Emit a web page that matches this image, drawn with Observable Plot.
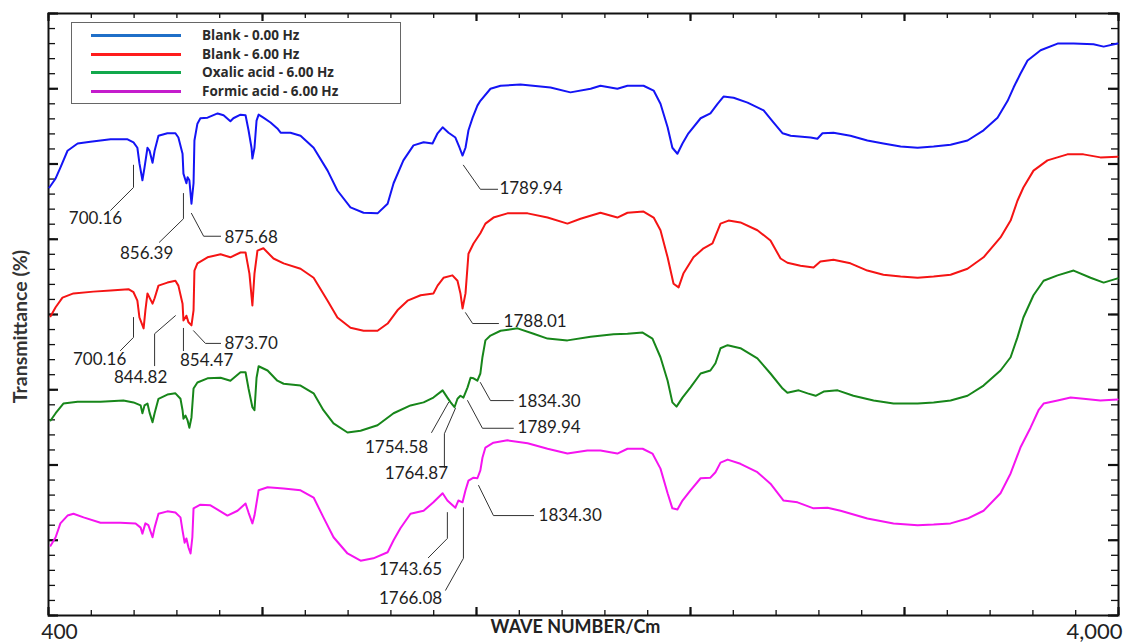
<!DOCTYPE html>
<html>
<head>
<meta charset="utf-8">
<script src="https://cdn.jsdelivr.net/npm/d3@7"></script>
<script src="https://cdn.jsdelivr.net/npm/@observablehq/plot@0.6"></script>
<style>
  html, body { margin: 0; padding: 0; background: #fff; overflow: hidden; }
  #wrap { position: relative; width: 1124px; height: 644px; }
  #legend { position: absolute; left: 71px; top: 22px; width: 328px; height: 80px;
    border: 1px solid #666; background: #fff; font-family: "Open Sans", Lato, sans-serif; }
  .row { position: absolute; left: 0; height: 18px; }
  .sw { position: absolute; left: 19px; width: 90px; height: 3px; top: 8px; }
  .lb { position: absolute; left: 130px; top: 0; font-size: 13.5px; font-weight: 700; color: #2b2b2b; line-height: 18px; white-space: nowrap; }
</style>
</head>
<body>
<div id="wrap"></div>
<script>
// ---- Data (wave number cm^-1, transmittance %) ----
const seriesNames = ["Blank - 0.00 Hz", "Blank - 6.00 Hz", "Oxalic acid - 6.00 Hz", "Formic acid - 6.00 Hz"];
const curveColors = ["#1414f5", "#f51414", "#17861a", "#f514f0"];
const legendColors = ["#1f6fc8", "#ff1c1c", "#12a84c", "#c41ccc"];

const blank0 = [[403,71.1],[424,72.6],[440,74.4],[464,77.2],[498,78.4],[541,78.7],[609,79.1],[666,79.1],[686,78.6],[699,77.7],[706,75.1],[716,72.3],[723,74.4],[733,77.7],[740,77.2],[750,75.2],[757,77.2],[770,79.7],[800,80.1],[827,80.1],[837,79.4],[851,76.7],[854,73.4],[864,71.8],[868,72.8],[874,72.3],[881,68.4],[888,71.8],[891,78.9],[901,81.7],[911,82.6],[935,82.7],[969,83.4],[989,83.1],[1012,82.1],[1022,82.6],[1046,83.2],[1063,83.1],[1073,80.6],[1083,77.7],[1086,75.9],[1093,77.7],[1100,82.2],[1107,83.2],[1123,82.7],[1147,81.9],[1170,80.9],[1181,80.2],[1214,80.2],[1248,79.7],[1292,77.7],[1339,73.9],[1372,70.6],[1416,67.8],[1460,66.9],[1507,66.8],[1541,68.4],[1561,71.8],[1594,75.6],[1628,78.1],[1662,78.6],[1692,78.4],[1709,80.1],[1726,81.1],[1746,80.2],[1769,79.4],[1783,77.7],[1793,76.4],[1803,77.7],[1813,80.6],[1827,82.7],[1843,84.7],[1853,85.5],[1887,87.5],[1921,88.0],[1988,88.2],[2089,87.7],[2156,86.9],[2224,87.5],[2257,88.0],[2314,87.5],[2348,88.0],[2402,88.0],[2436,87.2],[2459,85.0],[2483,81.1],[2499,77.7],[2516,76.7],[2533,78.4],[2553,80.1],[2594,82.6],[2627,83.4],[2651,85.0],[2671,86.2],[2705,86.0],[2752,85.2],[2806,83.9],[2839,81.9],[2870,80.1],[2897,79.7],[2964,79.4],[2987,79.2],[3004,80.1],[3041,80.2],[3098,79.7],[3155,78.9],[3209,78.4],[3267,77.9],[3324,77.7],[3378,77.9],[3435,78.2],[3492,78.9],[3546,80.6],[3593,82.7],[3627,85.5],[3647,87.7],[3670,90.0],[3694,92.2],[3738,93.9],[3795,95.0],[3849,95.0],[3916,94.9],[3950,94.5],[3997,95.0]];

const blank6 = [[407,49.7],[424,51.2],[447,52.8],[484,53.5],[551,53.8],[609,54.0],[669,54.2],[686,53.7],[699,52.3],[706,49.5],[720,47.7],[726,50.7],[733,53.5],[740,52.8],[750,51.8],[757,52.7],[770,54.8],[800,55.3],[827,55.6],[837,54.8],[851,51.8],[854,49.0],[864,49.8],[871,48.7],[881,48.2],[888,50.7],[891,57.3],[901,58.5],[935,59.5],[979,60.0],[1012,59.5],[1046,60.3],[1063,60.3],[1076,56.8],[1086,51.5],[1093,56.8],[1103,60.6],[1123,61.0],[1157,59.3],[1191,58.5],[1248,57.6],[1292,56.1],[1339,52.3],[1372,49.5],[1416,47.8],[1460,47.3],[1507,47.3],[1541,48.5],[1574,50.7],[1608,52.3],[1652,53.2],[1695,53.5],[1709,54.8],[1729,56.1],[1759,56.5],[1776,55.6],[1786,53.5],[1793,51.0],[1803,53.5],[1813,60.1],[1830,61.8],[1853,63.5],[1870,65.1],[1897,66.1],[1944,66.8],[2012,66.8],[2079,66.1],[2146,65.1],[2190,65.9],[2257,66.9],[2314,66.1],[2348,66.9],[2402,67.1],[2436,66.1],[2459,64.0],[2483,59.5],[2503,55.1],[2520,54.5],[2536,56.8],[2570,59.5],[2604,61.0],[2634,61.8],[2661,65.1],[2688,65.6],[2728,65.3],[2785,64.0],[2829,62.3],[2863,59.3],[2886,58.6],[2930,58.1],[2974,57.8],[2997,58.8],[3041,59.1],[3098,58.5],[3155,57.3],[3209,56.6],[3267,56.3],[3324,56.1],[3378,56.3],[3435,56.6],[3492,57.6],[3546,59.5],[3603,62.8],[3637,65.6],[3660,68.9],[3680,71.1],[3714,73.9],[3761,75.6],[3828,76.6],[3882,76.6],[3939,76.1],[3997,76.2]];

const oxalic6 = [[407,32.4],[424,33.6],[450,35.2],[498,35.5],[575,35.5],[652,35.7],[686,35.4],[710,34.9],[716,33.6],[723,34.9],[733,35.2],[740,33.7],[750,32.1],[757,33.6],[770,36.0],[800,36.7],[827,36.9],[844,36.0],[851,34.1],[854,32.7],[861,33.2],[868,32.4],[874,31.2],[881,32.9],[888,37.7],[901,38.7],[935,39.4],[979,39.5],[1012,39.0],[1046,40.4],[1063,40.4],[1073,37.7],[1086,34.6],[1093,34.1],[1100,39.5],[1107,41.4],[1137,40.7],[1170,39.0],[1191,38.5],[1248,38.2],[1292,36.9],[1325,34.1],[1359,31.9],[1406,30.4],[1450,30.7],[1507,31.6],[1561,33.6],[1618,34.9],[1662,35.4],[1695,36.2],[1726,37.4],[1742,36.2],[1753,35.4],[1766,34.6],[1776,36.0],[1786,36.5],[1796,36.2],[1810,37.9],[1820,39.5],[1830,39.4],[1843,39.0],[1853,40.2],[1860,42.9],[1870,45.7],[1887,46.5],[1921,47.3],[1978,47.7],[2032,46.8],[2079,46.0],[2146,45.7],[2224,46.3],[2301,46.7],[2348,46.8],[2399,47.0],[2432,46.0],[2459,42.9],[2483,39.0],[2499,35.4],[2513,34.7],[2533,36.2],[2560,37.9],[2594,40.2],[2627,40.7],[2644,41.9],[2661,44.4],[2685,44.9],[2728,44.4],[2785,42.7],[2829,40.2],[2870,37.7],[2886,37.0],[2924,37.4],[2954,36.9],[2981,36.5],[3008,37.2],[3055,37.4],[3108,36.5],[3176,35.7],[3243,35.2],[3324,35.2],[3378,35.4],[3435,35.7],[3492,36.5],[3546,38.2],[3603,40.7],[3637,42.9],[3660,46.2],[3680,49.5],[3714,53.2],[3748,55.6],[3795,56.5],[3849,57.3],[3906,56.1],[3950,55.3],[3997,56.0]];

const formic6 = [[407,11.6],[424,13.0],[440,15.3],[464,16.6],[484,16.9],[518,16.3],[575,15.4],[642,15.4],[693,15.3],[710,14.6],[716,13.6],[726,15.3],[736,15.0],[750,13.0],[757,14.6],[770,16.9],[800,17.3],[827,17.1],[844,16.3],[851,14.1],[858,12.1],[864,12.8],[871,11.3],[878,10.3],[884,13.0],[888,17.8],[911,18.4],[945,18.3],[1002,16.6],[1036,17.4],[1063,18.6],[1073,17.1],[1086,15.3],[1093,16.6],[1107,20.8],[1137,21.3],[1191,21.1],[1248,20.8],[1292,19.6],[1325,16.3],[1359,13.0],[1406,10.3],[1450,9.1],[1493,9.5],[1541,10.5],[1561,12.5],[1584,14.5],[1618,16.9],[1662,17.4],[1695,18.8],[1726,20.3],[1742,19.1],[1753,18.6],[1769,17.9],[1779,19.1],[1793,18.8],[1803,20.8],[1813,22.4],[1830,22.9],[1843,22.8],[1853,24.1],[1860,26.2],[1870,27.9],[1897,28.7],[1944,29.1],[2012,28.6],[2079,27.7],[2146,26.9],[2213,27.4],[2257,27.4],[2314,26.9],[2348,27.7],[2399,27.7],[2432,26.9],[2459,24.4],[2483,20.3],[2499,17.8],[2516,17.6],[2533,19.1],[2560,20.8],[2594,22.8],[2627,22.9],[2644,23.8],[2661,25.4],[2685,25.9],[2728,25.2],[2785,23.8],[2829,21.9],[2873,19.1],[2920,18.8],[2974,17.8],[3021,17.9],[3065,17.4],[3155,16.1],[3243,15.3],[3324,15.0],[3378,15.1],[3435,15.3],[3492,16.1],[3546,17.4],[3603,20.3],[3637,23.6],[3670,27.9],[3704,31.2],[3731,34.1],[3748,35.2],[3795,35.7],[3839,36.2],[3882,36.0],[3939,35.7],[3997,35.9]];

// Peak annotations: label, leader path in data units, label anchor point
const peakLabels = ["700.16","856.39","875.68","1789.94","700.16","844.82","854.47","873.70","1788.01","1834.30","1789.94","1754.58","1764.87","1834.30","1743.65","1766.08"];
const peakLeaders = [
  [[686,74.8],[686,71.1],[609,67.3]],
  [[854,70.1],[854,65.9],[773,62.0]],
  [[881,66.8],[922,63.0],[979,63.0]],
  [[1796,74.8],[1853,70.8],[1911,70.8]],
  [[686,49.5],[686,46.2],[642,44.0]],
  [[827,49.8],[757,46.8],[757,41.5]],
  [[854,47.7],[854,44.0]],
  [[888,47.3],[928,45.2],[979,45.2]],
  [[1803,50.3],[1827,48.5],[1914,48.5]],
  [[1853,38.7],[1887,35.7],[1964,35.7]],
  [[1810,35.7],[1860,31.1],[1964,31.1]],
  [[1746,35.4],[1689,30.4]],
  [[1769,34.4],[1732,30.2],[1732,24.6]],
  [[1847,21.6],[1897,16.6],[2032,16.6]],
  [[1742,17.1],[1742,12.8],[1678,9.6]],
  [[1796,17.9],[1796,9.5],[1736,4.2]]
];
const peakTextAt = [[558,65.9],[730,60.1],[992,62.8],[1917,70.9],[572,42.5],[710,39.5],[932,42.4],[992,45.2],[1931,48.8],[1978,35.5],[1978,31.2],[1571,27.9],[1638,23.6],[2049,16.6],[1618,7.6],[1618,2.8]];
const peakTextAnchor = ["middle","middle","start","start","middle","middle","middle","start","start","start","start","middle","middle","start","middle","middle"];

const xMinorTicks = d3.range(400, 4000.1, 144);
const xMajorTicks = d3.range(400, 4000.1, 720);
const yMinorTicks = d3.range(0, 100.1, 2.5);
const yMajorTicks = d3.range(0, 100.1, 12.5);
const xEndLabels = [400, 4000];

// ---- Build tables ----
const curves = [blank0, blank6, oxalic6, formic6].flatMap((arr, i) =>
  arr.map(([wn, t]) => ({series: seriesNames[i], wn, t})));
const leaders = peakLeaders.flatMap((p, i) => p.map(([wn, t]) => ({id: i, wn, t})));
const texts = peakLabels.map((lab, i) => ({lab, wn: peakTextAt[i][0], t: peakTextAt[i][1], anchor: peakTextAnchor[i]}));

const W = 1124, H = 644, mT = 13, mR = 6, mB = 29, mL = 48;
const fw = W - mL - mR, fh = H - mT - mB;
const font = "Lato, 'Open Sans', sans-serif";

const plot = Plot.plot({
  width: W, height: H,
  marginTop: mT, marginRight: mR, marginBottom: mB, marginLeft: mL,
  style: {fontFamily: font, background: "#fff", overflow: "visible"},
  x: {domain: [400, 4000], axis: null},
  y: {domain: [0, 100], axis: null},
  color: {domain: seriesNames, range: curveColors},
  marks: [
    // inward ticks, all four sides
    Plot.tickX(xMinorTicks, {x: d => d, insetTop: fh - 5, stroke: "#111", strokeWidth: 1.3}),
    Plot.tickX(xMinorTicks, {x: d => d, insetBottom: fh - 5, stroke: "#111", strokeWidth: 1.3}),
    Plot.tickX(xMajorTicks, {x: d => d, insetTop: fh - 8, stroke: "#111", strokeWidth: 2.2}),
    Plot.tickX(xMajorTicks, {x: d => d, insetBottom: fh - 8, stroke: "#111", strokeWidth: 2.2}),
    Plot.tickY(yMinorTicks, {y: d => d, insetRight: fw - 7, stroke: "#111", strokeWidth: 1.3}),
    Plot.tickY(yMinorTicks, {y: d => d, insetLeft: fw - 7, stroke: "#111", strokeWidth: 1.3}),
    Plot.tickY(yMajorTicks, {y: d => d, insetRight: fw - 10, stroke: "#111", strokeWidth: 2.2}),
    Plot.tickY(yMajorTicks, {y: d => d, insetLeft: fw - 10, stroke: "#111", strokeWidth: 2.2}),
    Plot.frame({stroke: "#111", strokeWidth: 2}),
    // spectra
    Plot.line(curves, {x: "wn", y: "t", z: "series", stroke: "series", strokeWidth: 2, curve: "linear"}),
    // annotations
    Plot.line(leaders, {x: "wn", y: "t", z: "id", stroke: "#333", strokeWidth: 1}),
    Plot.text(texts.filter(d => d.anchor === "middle"), {x: "wn", y: "t", text: "lab", textAnchor: "middle", fontSize: 17, fill: "#1e1e1e"}),
    Plot.text(texts.filter(d => d.anchor === "start"), {x: "wn", y: "t", text: "lab", textAnchor: "start", fontSize: 17, fill: "#1e1e1e"}),
    // axis end labels
    Plot.text([xEndLabels[0]], {x: d => d, frameAnchor: "bottom", dy: 23, dx: 11, text: d => String(d), fontSize: 21, fill: "#222"}),
    Plot.text([xEndLabels[1]], {x: d => d, frameAnchor: "bottom", dy: 23, dx: -24, text: d => d3.format(",")(d), fontSize: 22, fill: "#222"}),
    // axis titles
    Plot.text(["WAVE NUMBER/Cm"], {frameAnchor: "bottom", dy: 17, dx: -8, text: d => d, fontSize: 18, fontWeight: 700, fill: "#222"}),
    Plot.text(["Transmittance (%)"], {frameAnchor: "left", textAnchor: "middle", dx: -28, dy: 12, text: d => d, rotate: -90, fontSize: 19.5, fontWeight: 700, fill: "#333"})
  ]
});

const wrap = document.getElementById("wrap");
wrap.appendChild(plot);

// legend (inside the frame, top-left)
const legend = document.createElement("div");
legend.id = "legend";
seriesNames.forEach((name, i) => {
  const row = document.createElement("div");
  row.className = "row";
  row.style.top = (3 + i * 18.7) + "px";
  row.innerHTML = `<div class="sw" style="background:${legendColors[i]}"></div><div class="lb">${name}</div>`;
  legend.appendChild(row);
});
wrap.appendChild(legend);
</script>
</body>
</html>
